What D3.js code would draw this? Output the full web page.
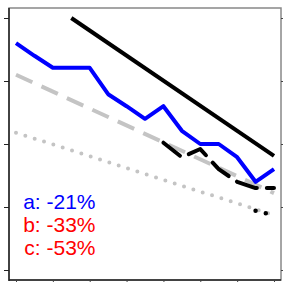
<!DOCTYPE html>
<html><head><meta charset="utf-8">
<script src="https://cdn.jsdelivr.net/npm/d3@7"></script>
<style>html,body{margin:0;padding:0;background:#fff;}svg{display:block;}</style>
</head><body>
<svg id="c" width="283" height="282"></svg>
<script>
// x positions are indices 0..14, ticks at even indices
const xTicks = [0, 2, 4, 6, 8, 10, 12, 14];
const yTicks = [0, 1, 2, 3, 4];

const blueX = [0,1,2,3,4,5,6,7,8,9,10,11,12,13,14];
const blueY = [3.60,3.40,3.21,3.21,3.21,2.79,2.60,2.40,2.60,2.21,2.00,2.00,1.79,1.40,1.60];

const solidX = [3, 14];
const solidY = [4.00, 1.81];

const grayDashX = [0, 14];
const grayDashY = [3.10, 1.22];

const grayDotX = [0, 14];
const grayDotY = [2.18, 0.87];

const blackDashX = [8,9,10,11,12,13,14];
const blackDashY = [2.02,1.79,1.92,1.60,1.40,1.30,1.30];

const blackDotX = [13, 14];
const blackDotY = [0.94, 0.87];

const labels = ["a: -21%", "b: -33%", "c: -53%"];
const labelColors = ["#0000ff", "#ff0000", "#ff0000"];

const svg = d3.select("#c");
const L = 9, R = 281, T = 8, B = 280;
const x = d3.scaleLinear().domain([-0.38, 14.38]).range([L, R]);
const y = d3.scaleLinear().domain([-10/63, 4 + 10/63]).range([B, T]);

// frame (top/right gray)
svg.append("rect").attr("x", L).attr("y", T).attr("width", R - L).attr("height", B - T)
  .attr("fill", "none").attr("stroke", "#888").attr("stroke-width", 1.5);

const line = d3.line().x(d => x(d[0])).y(d => y(d[1]));
const pts = (xs, ys) => xs.map((v, i) => [v, ys[i]]);

function draw(xs, ys, color, width, dash, cap) {
  svg.append("path").datum(pts(xs, ys)).attr("d", line)
    .attr("fill", "none").attr("stroke", color).attr("stroke-width", width)
    .attr("stroke-dasharray", dash || null)
    .attr("stroke-linecap", cap || "butt").attr("stroke-linejoin", "round");
}

draw(grayDotX, grayDotY, "#c4c4c4", 4, "0,9.8", "round");
draw(grayDashX, grayDashY, "#c4c4c4", 4, "18,10", "butt");
draw(blueX, blueY, "#0000ff", 4, null, "butt");
draw(solidX, solidY, "#000", 4, null, "butt");
draw(blackDashX, blackDashY, "#000", 4, "21,10", "round");
draw(blackDotX, blackDotY, "#000", 4.5, "0,10.5", "round");

// left axis
const ya = svg.append("g").attr("transform", `translate(${L},0)`)
  .call(d3.axisLeft(y).tickValues(yTicks).tickSize(5).tickFormat(""));
ya.select(".domain").attr("stroke", "#222").attr("stroke-width", 1.5).attr("d", `M0,${T}V${B+1}`);
ya.selectAll(".tick line").attr("stroke", "#222");

// right ticks
const yr = svg.append("g").attr("transform", `translate(${R},0)`)
  .call(d3.axisRight(y).tickValues(yTicks).tickSize(3).tickFormat(""));
yr.select(".domain").remove();
yr.selectAll(".tick line").attr("stroke", "#444");

// bottom axis
const xa = svg.append("g").attr("transform", `translate(0,${B})`)
  .call(d3.axisBottom(x).tickValues(xTicks).tickSize(4).tickFormat(""));
xa.select(".domain").attr("stroke", "#222").attr("stroke-width", 1.5).attr("d", `M${L},0H${R}`);
xa.selectAll(".tick line").attr("stroke", "#444");

// labels
svg.append("g").selectAll("text").data(labels).join("text")
  .attr("x", 95.5).attr("y", (d, i) => 209 + i * 23.2)
  .attr("text-anchor", "end")
  .attr("font-family", "'Liberation Sans', Arial, sans-serif")
  .attr("font-size", 21)
  .attr("fill", (d, i) => labelColors[i])
  .text(d => d);
</script>
</body></html>
